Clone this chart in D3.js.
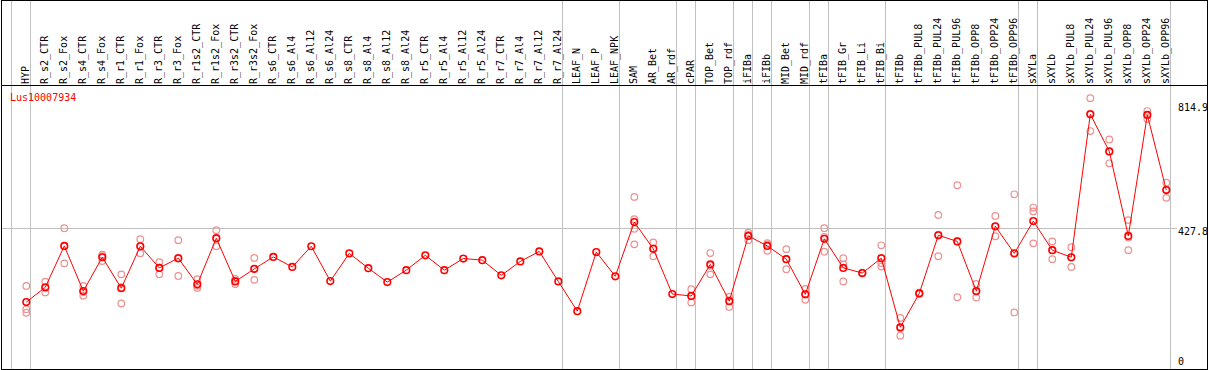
<!DOCTYPE html>
<html>
<head>
<meta charset="utf-8">
<script src="https://cdn.jsdelivr.net/npm/d3@7"></script>
<style>
    body { margin: 0; background: #fff; }
    svg { display: block; }
    text { font-family: "DejaVu Sans Mono", monospace; font-size: 10px; }
</style>
</head>
<body>
<svg id="chart" width="1209" height="370"></svg>
<script>
// Data
var geneName = "Lus10007934";

var samples = ["HYP", "R_s2_CTR", "R_s2_Fox", "R_s4_CTR", "R_s4_Fox", "R_r1_CTR", "R_r1_Fox",
    "R_r3_CTR", "R_r3_Fox", "R_r1s2_CTR", "R_r1s2_Fox", "R_r3s2_CTR", "R_r3s2_Fox",
    "R_s6_CTR", "R_s6_Al4", "R_s6_Al12", "R_s6_Al24", "R_s8_CTR", "R_s8_Al4", "R_s8_Al12", "R_s8_Al24",
    "R_r5_CTR", "R_r5_Al4", "R_r5_Al12", "R_r5_Al24", "R_r7_CTR", "R_r7_Al4", "R_r7_Al12", "R_r7_Al24",
    "LEAF_N", "LEAF_P", "LEAF_NPK", "SAM", "AR_Bet", "AR_rdf", "cPAR", "TOP_Bet", "TOP_rdf",
    "iFIBa", "iFIBb", "MID_Bet", "MID_rdf", "tFIBa", "tFIB_Gr", "tFIB_Li", "tFIB_Bi", "tFIBb",
    "tFIBb_PUL8", "tFIBb_PUL24", "tFIBb_PUL96", "tFIBb_OPP8", "tFIBb_OPP24", "tFIBb_OPP96",
    "sXYLa", "sXYLb", "sXYLb_PUL8", "sXYLb_PUL24", "sXYLb_PUL96", "sXYLb_OPP8", "sXYLb_OPP24", "sXYLb_OPP96"];

var means = [198, 244, 372, 232, 337, 241, 371, 304, 334, 253, 396, 262, 301,
    338, 307, 371, 263, 349, 303, 260, 297, 343, 297, 333, 328, 281, 324, 355, 262,
    170, 353, 278, 446, 363, 223, 217, 315, 201, 403, 372, 331, 222, 394, 304, 288, 334, 120,
    225, 405, 386, 232, 433, 349, 449, 359, 337, 780, 665, 403, 778, 545];

// replicate values (empty where only the mean is drawn)
var replicates = [
    [248, 176, 165], [261, 228, 242], [427, 318, 371], [248, 218, 229], [345, 325, 340],
    [284, 194, 244], [393, 349, 371], [322, 284, 305], [390, 279, 333], [269, 242, 249],
    [421, 371, 395], [270, 254, 264], [335, 267, 300],
    [], [], [], [], [], [], [], [], [], [], [], [], [], [], [], [],
    [], [], [],
    [524, 455, 425, 377], [383, 340, 364], [], [238, 197, 216], [350, 284, 311], [215, 183, 204],
    [413, 390, 406], [381, 357, 377], [362, 300, 331], [239, 205, 223], [427, 354, 400],
    [334, 262, 315], [287, 289, 288], [374, 308, 319], [149, 94, 117],
    [224, 227, 225], [468, 340, 407], [560, 213, 386], [254, 212, 231], [465, 402, 432], [532, 166, 349],
    [491, 479, 380], [386, 331, 359], [368, 307, 336], [830, 728, 782], [702, 628, 665],
    [452, 359, 398], [790, 765, 778], [568, 521, 547]];

// index of the last sample in each block (vertical separators)
var groupEnds = [-1, 0, 28, 31, 34, 35, 37, 38, 39, 41, 42, 45, 52, 53, 60];

var axisTicks = [0, 427.8, 814.9];

// Layout
var width = 1209, height = 370;
var headerBottom = 85.5;

var svg = d3.select("#chart");

var x = d3.scaleLinear().domain([0, samples.length - 1]).range([26.3, 1166.3]);
var y = d3.scaleLinear().domain([0, 814.9]).range([366, 103]);

// Separator lines
svg.append("g").selectAll("line")
    .data(groupEnds)
    .enter().append("line")
    .attr("x1", function(d) { return Math.floor(x(d) + 4) + 0.5; })
    .attr("x2", function(d) { return Math.floor(x(d) + 4) + 0.5; })
    .attr("y1", 0)
    .attr("y2", height)
    .attr("stroke", "#c0c0c0")
    .attr("stroke-width", 1);

// Middle reference line
svg.append("line")
    .attr("x1", 1)
    .attr("x2", 1177)
    .attr("y1", Math.round(y(axisTicks[1])) + 0.5)
    .attr("y2", Math.round(y(axisTicks[1])) + 0.5)
    .attr("stroke", "#c0c0c0");

// Frame
svg.append("rect")
    .attr("x", 1.5).attr("y", 0.5)
    .attr("width", 1206).attr("height", 369)
    .attr("fill", "none")
    .attr("stroke", "#000");

svg.append("line")
    .attr("x1", 1).attr("x2", 1208)
    .attr("y1", headerBottom).attr("y2", headerBottom)
    .attr("stroke", "#000");

// Sample labels (rotated)
svg.append("g").selectAll("text")
    .data(samples)
    .enter().append("text")
    .attr("transform", function(d, i) { return "translate(" + (x(i) + 3) + ",84) rotate(-90)"; })
    .attr("fill", "#000")
    .text(function(d) { return d; });

// Gene name
svg.append("text")
    .attr("x", 10)
    .attr("y", 101)
    .attr("fill", "#ff0000")
    .text(geneName);

// Right value labels
svg.append("g").selectAll("text")
    .data(axisTicks)
    .enter().append("text")
    .attr("x", 1178)
    .attr("y", function(d) { return Math.min(y(d) + 7.5, 365); })
    .attr("fill", "#000")
    .text(function(d) { return d == 0 ? "0" : d.toFixed(1); });

// Replicates
var repPoints = [];
replicates.forEach(function(list, i) {
    list.forEach(function(v) { repPoints.push({ i: i, v: v }); });
});

svg.append("g").selectAll("circle")
    .data(repPoints)
    .enter().append("circle")
    .attr("cx", function(d) { return x(d.i); })
    .attr("cy", function(d) { return y(d.v); })
    .attr("r", 3.3)
    .attr("fill", "none")
    .attr("stroke", "#ee9090")
    .attr("stroke-width", 1.2);

// Mean line
var line = d3.line()
    .x(function(d, i) { return x(i); })
    .y(function(d) { return y(d); });

svg.append("path")
    .datum(means)
    .attr("d", line)
    .attr("fill", "none")
    .attr("stroke", "#ff0000")
    .attr("stroke-width", 1);

svg.append("g").selectAll("circle")
    .data(means)
    .enter().append("circle")
    .attr("cx", function(d, i) { return x(i); })
    .attr("cy", function(d) { return y(d); })
    .attr("r", 3.3)
    .attr("fill", "none")
    .attr("stroke", "#ff0000")
    .attr("stroke-width", 1.6);
</script>
</body>
</html>
